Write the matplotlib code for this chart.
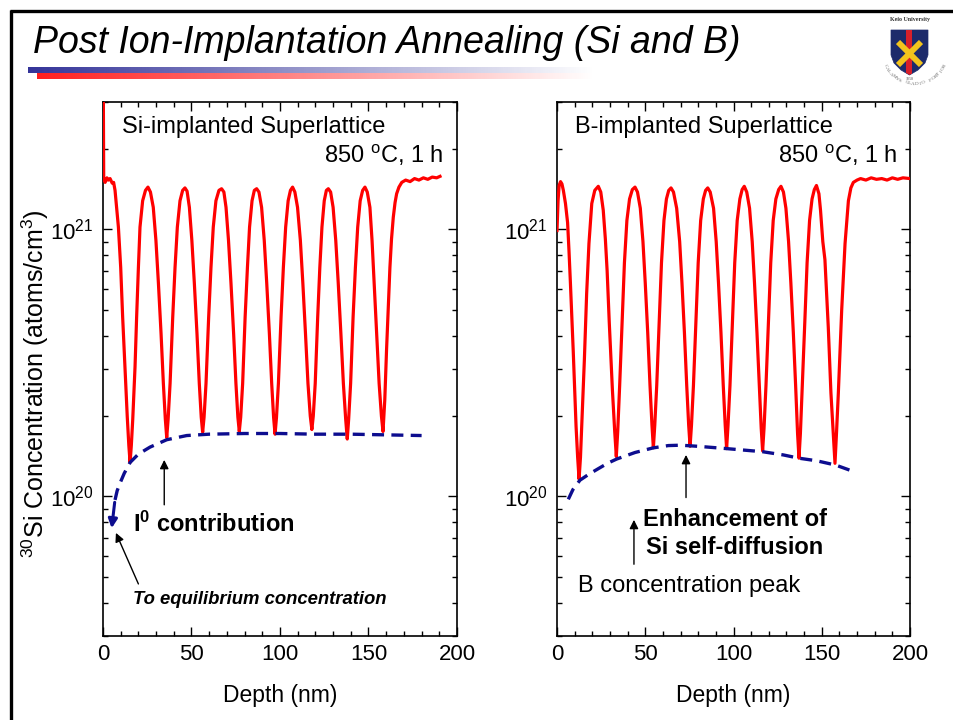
import numpy as np
import matplotlib
matplotlib.use("Agg")
import matplotlib.pyplot as plt
from matplotlib.ticker import (FixedLocator, FixedFormatter, LogLocator,
                               NullFormatter, MultipleLocator)
from matplotlib.patches import Polygon, Rectangle

plt.rcParams["font.family"] = ["Liberation Sans", "DejaVu Sans"]
plt.rcParams["mathtext.fontset"] = "custom"
plt.rcParams["mathtext.rm"] = "Liberation Sans"
plt.rcParams["mathtext.it"] = "Liberation Sans:italic"
plt.rcParams["mathtext.bf"] = "Liberation Sans:bold"
plt.rcParams["mathtext.default"] = "regular"

# ---------------- SIMS profiles: Si-implanted superlattice ----------------
si_depth = [0.0, 0.4, 1.2, 2.2, 3.0, 4.0, 5.2, 6.0, 6.8, 7.8, 8.7, 10.0, 11.1, 12.4, 13.7, 14.6,
            15.3, 16.0, 16.8, 18.1, 19.0, 20.0, 20.9, 22.4, 24.0, 25.4, 26.8, 28.4, 29.9, 31.3,
            32.8, 34.1, 35.2,
            36.0, 36.8, 37.9, 39.4, 40.7, 42.0, 43.5, 45.0, 46.3, 47.5, 48.8, 50.2, 51.6, 53.1,
            54.4, 55.5,
            56.3, 57.1, 58.2, 59.7, 61.0, 62.3, 63.8, 65.5, 67.0, 68.3, 69.5, 70.9, 72.3, 73.8,
            75.1, 76.2,
            77.0, 77.8, 78.9, 80.3, 81.6, 82.8, 84.2, 85.5, 86.8, 88.1, 89.6, 91.1, 92.5, 94.0,
            95.3, 96.4,
            97.2, 98.0, 99.1, 100.6, 101.9, 103.2, 104.6, 105.9, 107.1, 108.4, 109.9, 111.5,
            112.9, 114.4, 115.8, 117.1,
            118.0, 118.8, 119.9, 121.3, 122.5, 123.7, 125.0, 126.2, 127.3, 128.6, 130.0, 131.5,
            132.9, 134.4, 135.8, 137.1,
            138.0, 138.8, 139.9, 141.3, 142.6, 143.9, 145.3, 146.7, 148.0, 149.3, 150.8, 152.0,
            153.2, 154.6, 156.0, 157.3,
            158.2, 159.2, 160.2, 161.2, 162.1, 163.0, 164.0, 165.0, 165.9, 167.2, 168.8, 171.0,
            173.5, 176.0, 178.5, 181.0, 183.5, 186.0, 188.5, 190.4]
si_conc = [6.0e21, 1.55e21, 1.50e21, 1.56e21, 1.53e21, 1.55e21, 1.49e21, 1.50e21, 1.40e21,
           1.18e21, 1.02e21, 7.2e20, 4.7e20, 3.06e20, 1.99e20, 1.55e20,
           1.34e20, 1.55e20, 1.94e20, 3.06e20, 4.7e20, 7.2e20, 1.02e21, 1.28e21, 1.40e21,
           1.44e21, 1.38e21, 1.21e21, 9.1e20, 6.3e20, 4.07e20, 2.65e20, 1.95e20,
           1.66e20, 1.95e20, 2.65e20, 4.7e20, 7.2e20, 1.02e21, 1.28e21, 1.40e21, 1.43e21,
           1.39e21, 1.21e21, 9.1e20, 6.3e20, 4.07e20, 2.65e20, 1.98e20,
           1.74e20, 1.98e20, 2.65e20, 4.7e20, 7.2e20, 1.02e21, 1.28e21, 1.40e21, 1.42e21,
           1.38e21, 1.21e21, 9.1e20, 6.3e20, 4.07e20, 2.65e20, 1.98e20,
           1.75e20, 1.98e20, 2.65e20, 4.7e20, 7.2e20, 1.02e21, 1.28e21, 1.40e21, 1.42e21,
           1.38e21, 1.21e21, 9.1e20, 6.3e20, 4.07e20, 2.65e20, 1.97e20,
           1.71e20, 1.97e20, 2.65e20, 4.7e20, 7.2e20, 1.02e21, 1.28e21, 1.40e21, 1.44e21,
           1.38e21, 1.21e21, 9.1e20, 6.3e20, 4.07e20, 2.65e20, 2.0e20,
           1.78e20, 2.0e20, 2.65e20, 4.7e20, 7.2e20, 1.02e21, 1.28e21, 1.40e21, 1.42e21,
           1.38e21, 1.21e21, 9.1e20, 6.3e20, 4.07e20, 2.65e20, 1.95e20,
           1.64e20, 1.95e20, 2.65e20, 4.7e20, 7.2e20, 1.02e21, 1.28e21, 1.40e21, 1.44e21,
           1.38e21, 1.21e21, 9.1e20, 6.3e20, 4.07e20, 2.65e20, 2.0e20,
           1.75e20, 2.3e20, 3.54e20, 5.2e20, 7.2e20, 9.2e20, 1.11e21, 1.26e21, 1.36e21,
           1.44e21, 1.50e21, 1.53e21, 1.51e21, 1.55e21, 1.53e21, 1.56e21, 1.54e21, 1.57e21,
           1.56e21, 1.58e21]

# I0-contribution envelope (Si-implanted)
si_env_depth = [6.8, 8.0, 9.6, 12.0, 15.3, 20.0, 26.6, 36.0, 47.3, 60.0, 80.0, 100.0, 120.0,
                140.0, 160.0, 180.0]
si_env_conc = [9.7e19, 1.05e20, 1.12e20, 1.22e20, 1.34e20, 1.44e20, 1.53e20, 1.63e20, 1.69e20,
               1.71e20, 1.72e20, 1.72e20, 1.71e20, 1.71e20, 1.70e20, 1.69e20]

# ---------------- SIMS profiles: B-implanted superlattice ----------------
b_depth = [0.0, 0.6, 1.2, 2.0, 2.8, 3.6, 4.8, 6.0, 6.8, 7.6, 9.2, 10.8, 11.7,
           12.5, 13.3, 14.0, 15.5, 16.8, 18.1, 19.7, 21.4, 23.4, 24.8, 26.2, 27.4, 28.4, 29.6,
           31.4, 32.7,
           33.6, 34.4, 35.5, 36.9, 38.2, 39.6, 41.1, 42.7, 44.2, 45.6, 47.2, 48.7, 50.0, 51.4,
           52.7, 53.8,
           54.6, 55.4, 56.5, 57.9, 59.2, 60.6, 62.0, 63.3, 64.6, 66.0, 67.8, 69.5, 70.8, 72.2,
           73.5, 74.6,
           75.4, 76.2, 77.3, 78.7, 80.0, 81.4, 82.9, 84.2, 85.4, 86.8, 88.7, 90.2, 91.5, 92.9,
           94.2, 95.3,
           96.1, 96.9, 98.0, 99.4, 100.7, 102.1, 103.6, 104.9, 106.1, 107.5, 109.1, 110.6,
           111.9, 113.3, 114.6, 115.7,
           116.5, 117.3, 118.4, 119.8, 121.1, 122.5, 124.0, 125.6, 126.9, 128.3, 129.7, 131.2,
           132.5, 133.9, 135.2, 136.3,
           137.1, 137.9, 139.0, 140.4, 141.7, 143.1, 144.5, 145.8, 147.0, 148.4, 149.3, 150.6,
           151.8, 152.7, 153.7, 155.2, 156.6,
           157.5, 158.4, 159.4, 161.3, 163.2, 165.1, 166.5, 167.9, 170.0, 172.0, 175.0, 178.0,
           181.0, 184.0, 187.0, 190.0, 193.0, 196.0, 200.0]
b_conc = [9.9e20, 1.28e21, 1.46e21, 1.51e21, 1.48e21, 1.40e21, 1.25e21, 1.06e21, 8.3e20,
          6.3e20, 3.5e20, 1.83e20, 1.40e20,
          1.16e20, 1.40e20, 1.83e20, 3.24e20, 5.75e20, 8.85e20, 1.25e21, 1.40e21, 1.45e21,
          1.38e21, 1.18e21, 9.2e20, 7.0e20, 4.5e20, 2.5e20, 1.75e20,
          1.41e20, 1.75e20, 2.6e20, 4.5e20, 7.5e20, 1.08e21, 1.30e21, 1.41e21, 1.44e21,
          1.38e21, 1.20e21, 9.0e20, 6.3e20, 4.1e20, 2.6e20, 1.85e20,
          1.52e20, 1.85e20, 2.6e20, 4.5e20, 7.5e20, 1.08e21, 1.30e21, 1.40e21, 1.43e21,
          1.38e21, 1.20e21, 9.0e20, 6.3e20, 4.1e20, 2.6e20, 1.85e20,
          1.54e20, 1.85e20, 2.6e20, 4.5e20, 7.5e20, 1.08e21, 1.30e21, 1.40e21, 1.43e21,
          1.38e21, 1.20e21, 9.0e20, 6.3e20, 4.1e20, 2.6e20, 1.85e20,
          1.51e20, 1.85e20, 2.6e20, 4.5e20, 7.5e20, 1.08e21, 1.30e21, 1.41e21, 1.45e21,
          1.38e21, 1.20e21, 9.0e20, 6.3e20, 4.1e20, 2.6e20, 1.80e20,
          1.48e20, 1.80e20, 2.6e20, 4.5e20, 7.5e20, 1.08e21, 1.30e21, 1.41e21, 1.45e21,
          1.38e21, 1.20e21, 9.0e20, 6.3e20, 4.1e20, 2.6e20, 1.72e20,
          1.39e20, 1.72e20, 2.6e20, 4.5e20, 7.5e20, 1.08e21, 1.30e21, 1.41e21, 1.46e21,
          1.36e21, 1.18e21, 9.0e20, 7.7e20, 5.8e20, 4.3e20, 2.44e20, 1.70e20,
          1.33e20, 1.75e20, 2.44e20, 4.99e20, 8.85e20, 1.28e21, 1.43e21, 1.50e21, 1.53e21,
          1.55e21, 1.53e21, 1.56e21, 1.54e21, 1.55e21, 1.53e21, 1.56e21, 1.54e21, 1.56e21,
          1.55e21]

# Self-diffusion enhancement envelope (B-implanted)
b_env_depth = [6.4, 9.0, 13.0, 18.0, 23.4, 28.6, 33.8, 44.2, 54.6, 63.1, 70.0, 80.0, 96.1,
               116.5, 128.2, 137.1, 147.0, 157.9, 167.9]
b_env_conc = [9.75e19, 1.06e20, 1.15e20, 1.21e20, 1.27e20, 1.33e20, 1.38e20, 1.46e20, 1.52e20,
              1.55e20, 1.555e20, 1.54e20, 1.51e20, 1.47e20, 1.43e20, 1.39e20, 1.36e20, 1.31e20,
              1.24e20]

x_ticks = [0, 50, 100, 150, 200]
y_ticks = [1e20, 1e21]
y_ticklabels = [r"10$^{20}$", r"10$^{21}$"]

RED = "#ff0000"
NAVY = "#0d0d8f"

W, H = 954, 720
fig = plt.figure(figsize=(W / 100, H / 100), dpi=100)

# ---------------- slide decoration (pixel coordinates) ----------------
bg = fig.add_axes([0, 0, 1, 1])
bg.axis("off")


def gradient_bar(ax, x0, x1, y0, y1, rgb):
    n = 300
    img = np.zeros((1, n, 4))
    img[..., :3] = rgb
    img[..., 3] = np.linspace(1.0, 0.0, n)
    ax.imshow(img, extent=(x0, x1, y1, y0), aspect="auto", interpolation="bilinear")


gradient_bar(bg, 28, 595, 68, 73.5, (0.20, 0.20, 0.60))
gradient_bar(bg, 37, 595, 73.5, 79, (1.0, 0.12, 0.12))

bg.plot([11, 11], [10, H], color="black", lw=2.4, solid_capstyle="butt")
bg.plot([10, W], [11, 11], color="black", lw=2.4, solid_capstyle="butt")

fig.text(33 / W, 1 - 53 / H, "Post Ion-Implantation Annealing (Si and B)",
         fontsize=27, style="italic", ha="left", va="baseline")

# university crest
bg.text(910, 20, "Keio University", fontsize=4.3, family="Liberation Serif",
        weight="bold", color="#333333", ha="center", va="center")
shield = Polygon([(891, 30), (928, 30), (928, 55), (925, 63), (918, 70), (909.5, 75),
                  (901, 70), (894, 63), (891, 55)], closed=True,
                 facecolor="#1d2b6b", edgecolor="#1d2b6b", lw=0.5)
bg.add_patch(shield)
stripe = Rectangle((906.5, 30), 6, 46, facecolor="#d8202a", edgecolor="none")
bg.add_patch(stripe)
stripe.set_clip_path(shield)
for (xa, ya, xb, yb) in [(898, 42, 921, 65), (921, 42, 898, 65)]:
    ln, = bg.plot([xa, xb], [ya, yb], color="#f3c41c", lw=4.2, solid_capstyle="butt")
    ln.set_clip_path(shield)
bg.text(909.5, 79.5, "1858", fontsize=3, family="Liberation Serif", color="#555555",
        ha="center", va="center")
motto = "CALAMVS GLADIO FORTIOR"
cx, cy, rad = 915.0, 50.0, 34.0
angles = np.linspace(152, 28, len(motto))
for ch, a in zip(motto, angles):
    ar = np.deg2rad(a)
    bg.text(cx + rad * np.cos(ar), cy + rad * np.sin(ar), ch, fontsize=3.6,
            family="Liberation Serif", color="#666666", rotation=90 - a,
            ha="center", va="center", rotation_mode="anchor")

bg.set_xlim(0, W)
bg.set_ylim(H, 0)

# ---------------- plots ----------------
ax1 = fig.add_axes([103 / W, 1 - 636 / H, 354 / W, 534 / H])
ax2 = fig.add_axes([557 / W, 1 - 636 / H, 353 / W, 534 / H])


def style_axes(ax):
    ax.set_yscale("log")
    ax.set_xlim(0, 200)
    ax.set_ylim(3e19, 3e21)
    ax.xaxis.set_major_locator(FixedLocator(x_ticks))
    ax.xaxis.set_minor_locator(MultipleLocator(10))
    ax.yaxis.set_major_locator(FixedLocator(y_ticks))
    ax.yaxis.set_major_formatter(FixedFormatter(y_ticklabels))
    ax.yaxis.set_minor_locator(LogLocator(base=10, subs=np.arange(2, 10), numticks=20))
    ax.yaxis.set_minor_formatter(NullFormatter())
    ax.tick_params(which="both", direction="in", top=True, right=True, width=1.0,
                   labelsize=16, color="black")
    ax.tick_params(which="major", length=6.5)
    ax.tick_params(which="minor", length=3.5)
    ax.tick_params(axis="x", pad=6)
    ax.tick_params(axis="y", pad=7)
    for s in ax.spines.values():
        s.set_linewidth(1.2)
    ax.text(0.5, -0.111, "Depth (nm)", transform=ax.transAxes, fontsize=16.5,
            ha="center", va="center")


style_axes(ax1)
style_axes(ax2)

arrow_kw = dict(arrowstyle="-|>", color="black", lw=1.0, mutation_scale=13,
                shrinkA=0, shrinkB=0)
deg_label = r"850 $^{o}$C, 1 h"

# Si-implanted panel
ax1.plot(si_depth, si_conc, color=RED, lw=2.3, solid_joinstyle="round", zorder=3)
ax1.plot(si_env_depth, si_env_conc, color=NAVY, lw=2.4, linestyle=(0, (3.6, 2.2)),
         dash_capstyle="butt", zorder=4)
ax1.annotate("", xy=(4.9, 7.6e19), xytext=(6.6, 9.5e19),
             arrowprops=dict(arrowstyle="-|>", color=NAVY, lw=2.2, mutation_scale=13,
                             shrinkA=0, shrinkB=0), zorder=4)
ax1.text(0.053, 0.9425, "Si-implanted Superlattice", transform=ax1.transAxes,
         fontsize=17, ha="left", va="baseline")
ax1.text(0.963, 0.886, deg_label, transform=ax1.transAxes,
         fontsize=17, ha="right", va="baseline")
ax1.annotate("", xy=(34.6, 1.37e20), xytext=(34.6, 9.3e19), arrowprops=arrow_kw)
ax1.text(16.8, 7.38e19, r"$\mathbf{I^{0}}$ contribution", fontsize=17,
         weight="bold", ha="left", va="baseline")
ax1.annotate("", xy=(7.3, 7.3e19), xytext=(20.0, 4.7e19), arrowprops=arrow_kw)
ax1.text(17.1, 3.95e19, "To equilibrium concentration", fontsize=13.3,
         weight="bold", style="italic", ha="left", va="baseline")

# B-implanted panel
ax2.plot(b_depth, b_conc, color=RED, lw=2.3, solid_joinstyle="round", zorder=3)
ax2.plot(b_env_depth, b_env_conc, color=NAVY, lw=2.4, linestyle=(0, (3.6, 2.2)),
         dash_capstyle="butt", zorder=4)
ax2.text(0.051, 0.9425, "B-implanted Superlattice", transform=ax2.transAxes,
         fontsize=17, ha="left", va="baseline")
ax2.text(0.965, 0.886, deg_label, transform=ax2.transAxes,
         fontsize=17, ha="right", va="baseline")
ax2.annotate("", xy=(73.1, 1.43e20), xytext=(73.1, 9.9e19), arrowprops=arrow_kw)
ax2.text(100.9, 7.74e19, "Enhancement of", fontsize=17, weight="bold",
         ha="center", va="baseline")
ax2.text(100.9, 6.08e19, "Si self-diffusion", fontsize=17, weight="bold",
         ha="center", va="baseline")
ax2.annotate("", xy=(43.6, 8.17e19), xytext=(43.6, 5.57e19), arrowprops=arrow_kw)
ax2.text(12.1, 4.4e19, "B concentration peak", fontsize=17, ha="left", va="baseline")

fig.text(35 / W, 1 - 384 / H, r"$^{30}$Si Concentration (atoms/cm$^{3}$)",
         fontsize=18, rotation=90, ha="center", va="center")

fig.savefig("out.png", dpi=100)
